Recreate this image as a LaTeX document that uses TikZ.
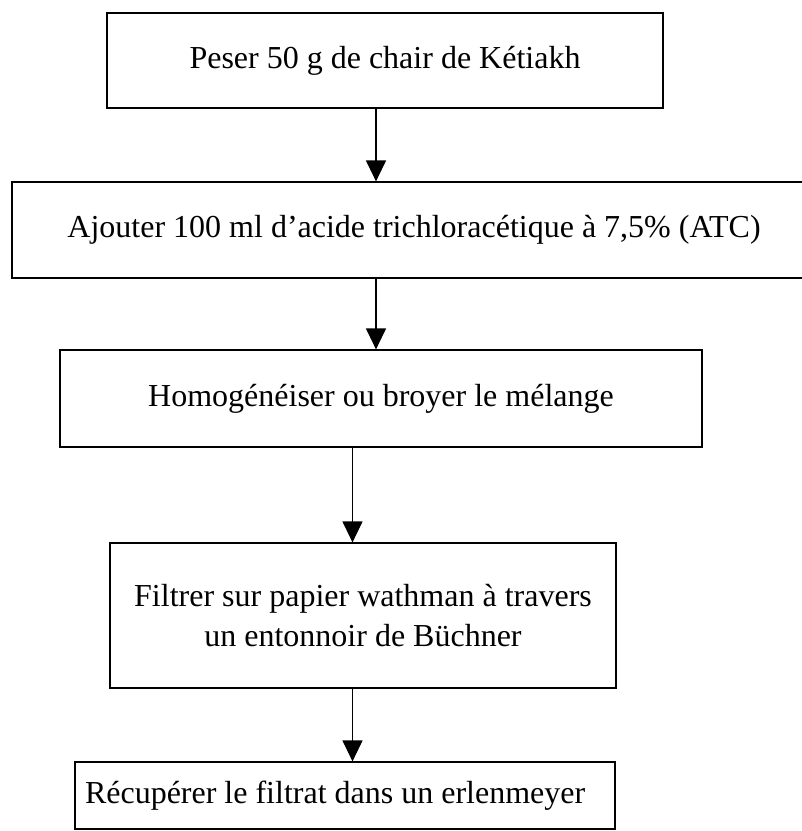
\documentclass[tikz,border=0pt]{standalone}
\usepackage{fontspec}
\setmainfont{Liberation Serif}
\usetikzlibrary{arrows.meta}
\begin{document}
\begin{tikzpicture}[x=1pt,y=-1pt,
  box/.style={draw, line width=1.2pt, inner sep=0pt, font=\fontsize{32}{40}\selectfont, align=center},
  arr/.style={-{Triangle[width=20pt,length=21pt]}, line width=1.2pt}]
\useasboundingbox (0,0) rectangle (802,831);
\clip (0,0) rectangle (802,831);
\node[box, minimum width=556pt, minimum height=95pt] (b1) at (385,60.5) {Peser 50 g de chair de Kétiakh};
\node[box, minimum width=804pt, minimum height=96pt] (b2) at (414,230) {Ajouter 100 ml d’acide trichloracétique à 7,5\% (ATC)};
\node[box, minimum width=642pt, minimum height=97pt] (b3) at (381,398.5) {Homogénéiser ou broyer le mélange};
\node[box, minimum width=506pt, minimum height=145pt] (b4) at (363,615.5) {Filtrer sur papier wathman à travers\\un entonnoir de Büchner};
\node[box, minimum width=540pt, minimum height=67pt, text width=520pt, align=flush left] (b5) at (345,795.5) {Récupérer le filtrat dans un erlenmeyer};
\coordinate (xa) at (376,0);
\coordinate (xb) at (352.5,0);
\draw[arr] (b1.south -| xa) -- (b2.north -| xa);
\draw[arr] (b2.south -| xa) -- (b3.north -| xa);
\draw[arr] (b3.south -| xb) -- (b4.north -| xb);
\draw[arr] (b4.south -| xb) -- (b5.north -| xb);
\end{tikzpicture}
\end{document}
